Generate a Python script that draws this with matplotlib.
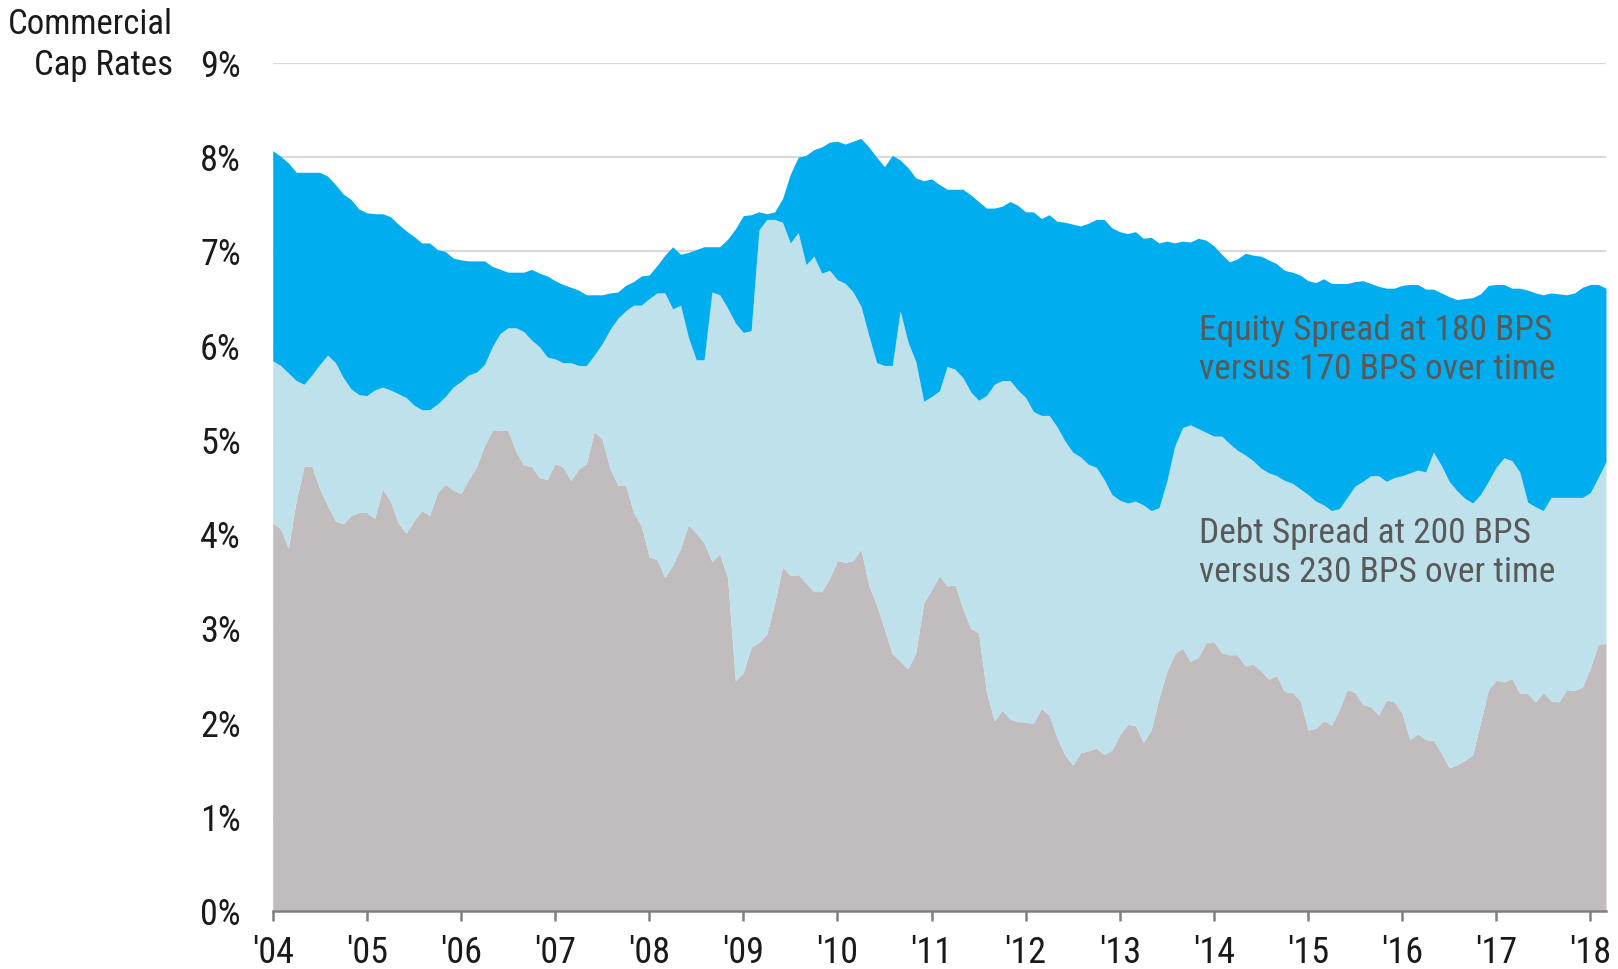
import matplotlib
matplotlib.use("Agg")
import matplotlib.pyplot as plt
from matplotlib import font_manager as fm
import numpy as np

# ---- data (monthly, Jan 2004 - Mar 2018), values in % ----
treasury = [
    4.12, 4.06, 3.85, 4.36, 4.72, 4.72, 4.48, 4.30, 4.14, 4.11, 4.20, 4.23,
    4.23, 4.17, 4.48, 4.35, 4.12, 4.01, 4.14, 4.25, 4.20, 4.44, 4.53, 4.47,
    4.43, 4.58, 4.72, 4.94, 5.10, 5.10, 5.10, 4.88, 4.73, 4.72, 4.60, 4.58,
    4.75, 4.71, 4.57, 4.69, 4.75, 5.09, 5.01, 4.70, 4.52, 4.52, 4.23, 4.09,
    3.76, 3.73, 3.54, 3.67, 3.85, 4.10, 4.01, 3.91, 3.71, 3.79, 3.54, 2.44,
    2.53, 2.80, 2.85, 2.94, 3.27, 3.65, 3.56, 3.57, 3.48, 3.39, 3.39, 3.53,
    3.72, 3.70, 3.72, 3.84, 3.46, 3.25, 2.99, 2.73, 2.65, 2.57, 2.74, 3.27,
    3.41, 3.56, 3.45, 3.46, 3.21, 3.00, 2.95, 2.33, 2.02, 2.13, 2.04, 2.01,
    2.00, 1.99, 2.15, 2.08, 1.84, 1.66, 1.55, 1.68, 1.70, 1.73, 1.66, 1.71,
    1.87, 1.98, 1.97, 1.79, 1.92, 2.26, 2.54, 2.73, 2.79, 2.65, 2.69, 2.85,
    2.86, 2.74, 2.72, 2.72, 2.60, 2.62, 2.55, 2.46, 2.50, 2.33, 2.32, 2.24,
    1.92, 1.94, 2.02, 1.97, 2.14, 2.35, 2.32, 2.19, 2.17, 2.08, 2.24, 2.22,
    2.10, 1.82, 1.88, 1.82, 1.81, 1.68, 1.52, 1.55, 1.60, 1.66, 2.00, 2.35,
    2.45, 2.43, 2.47, 2.31, 2.31, 2.22, 2.32, 2.23, 2.22, 2.35, 2.34, 2.38,
    2.58, 2.83, 2.84,
]
debt_cost = [
    5.84, 5.79, 5.71, 5.63, 5.59, 5.69, 5.80, 5.90, 5.82, 5.66, 5.54, 5.48,
    5.47, 5.53, 5.56, 5.53, 5.49, 5.45, 5.37, 5.32, 5.32, 5.38, 5.46, 5.56,
    5.62, 5.69, 5.72, 5.80, 5.99, 6.13, 6.19, 6.19, 6.15, 6.06, 5.99, 5.88,
    5.86, 5.82, 5.82, 5.79, 5.79, 5.90, 6.02, 6.17, 6.29, 6.37, 6.43, 6.43,
    6.50, 6.56, 6.56, 6.39, 6.43, 6.09, 5.85, 5.85, 6.57, 6.54, 6.40, 6.24,
    6.14, 6.16, 7.23, 7.34, 7.34, 7.31, 7.09, 7.20, 6.86, 6.95, 6.77, 6.80,
    6.70, 6.66, 6.57, 6.42, 6.11, 5.82, 5.79, 5.79, 6.37, 6.04, 5.83, 5.41,
    5.46, 5.52, 5.78, 5.75, 5.66, 5.51, 5.42, 5.47, 5.59, 5.63, 5.63, 5.53,
    5.45, 5.30, 5.26, 5.26, 5.14, 4.99, 4.87, 4.82, 4.74, 4.71, 4.58, 4.42,
    4.36, 4.33, 4.35, 4.31, 4.25, 4.28, 4.56, 4.93, 5.13, 5.16, 5.12, 5.08,
    5.04, 5.04, 4.96, 4.89, 4.84, 4.78, 4.70, 4.65, 4.62, 4.57, 4.54, 4.48,
    4.42, 4.35, 4.31, 4.25, 4.27, 4.39, 4.51, 4.56, 4.62, 4.62, 4.56, 4.60,
    4.62, 4.65, 4.68, 4.66, 4.87, 4.73, 4.56, 4.46, 4.38, 4.33, 4.42, 4.56,
    4.71, 4.81, 4.78, 4.66, 4.34, 4.29, 4.25, 4.39, 4.39, 4.39, 4.39, 4.39,
    4.44, 4.60, 4.77,
]
cap_rate = [
    8.07, 8.01, 7.94, 7.84, 7.84, 7.84, 7.84, 7.80, 7.71, 7.61, 7.55, 7.45,
    7.41, 7.40, 7.40, 7.37, 7.29, 7.22, 7.16, 7.09, 7.09, 7.02, 7.00, 6.93,
    6.91, 6.90, 6.90, 6.90, 6.84, 6.81, 6.78, 6.78, 6.78, 6.81, 6.77, 6.74,
    6.69, 6.65, 6.62, 6.59, 6.54, 6.54, 6.54, 6.56, 6.57, 6.64, 6.68, 6.74,
    6.75, 6.85, 6.96, 7.05, 6.97, 6.99, 7.02, 7.05, 7.05, 7.05, 7.13, 7.24,
    7.38, 7.39, 7.42, 7.40, 7.42, 7.56, 7.82, 8.00, 8.02, 8.08, 8.11, 8.16,
    8.17, 8.14, 8.17, 8.20, 8.11, 8.00, 7.90, 8.02, 7.97, 7.89, 7.78, 7.75,
    7.77, 7.71, 7.66, 7.66, 7.66, 7.60, 7.53, 7.46, 7.46, 7.48, 7.53, 7.49,
    7.42, 7.42, 7.35, 7.39, 7.32, 7.31, 7.29, 7.27, 7.30, 7.34, 7.34, 7.25,
    7.21, 7.19, 7.21, 7.14, 7.15, 7.09, 7.11, 7.09, 7.11, 7.10, 7.14, 7.12,
    7.06, 6.97, 6.89, 6.92, 6.98, 6.96, 6.95, 6.91, 6.87, 6.80, 6.78, 6.75,
    6.69, 6.67, 6.71, 6.66, 6.66, 6.66, 6.68, 6.69, 6.66, 6.63, 6.61, 6.61,
    6.64, 6.65, 6.65, 6.60, 6.60, 6.56, 6.52, 6.49, 6.50, 6.51, 6.55, 6.64,
    6.65, 6.65, 6.61, 6.61, 6.59, 6.56, 6.54, 6.56, 6.55, 6.54, 6.56, 6.62,
    6.65, 6.65, 6.61,
]
year_labels = ["'04", "'05", "'06", "'07", "'08", "'09", "'10", "'11",
               "'12", "'13", "'14", "'15", "'16", "'17", "'18"]
y_ticks = [0, 1, 2, 3, 4, 5, 6, 7, 8, 9]
equity_note = "Equity Spread at 180 BPS\nversus 170 BPS over time"
debt_note = "Debt Spread at 200 BPS\nversus 230 BPS over time"

# ---- font: prefer a narrow / condensed sans face if one is installed ----
def pick_font():
    entries = fm.fontManager.ttflist
    prefs = ["Liberation Sans Narrow", "Arial Narrow", "Roboto Condensed",
             "Open Sans Condensed", "Noto Sans Condensed", "DejaVu Sans Condensed"]
    for p in prefs:
        for f in entries:
            if f.name == p and f.weight in (400, "normal", "regular", "book") and f.style == "normal":
                return f.fname
    for f in entries:
        st = f.stretch
        narrow = (isinstance(st, str) and "condensed" in st and "extra" not in st and "ultra" not in st) or \
                 (isinstance(st, (int, float)) and 300 <= st < 500)
        if narrow and f.style == "normal" and f.weight in (400, "normal", "regular", "book") \
                and "Mono" not in f.name and "Serif" not in f.name:
            return f.fname
    return None

fpath = pick_font()
if fpath:
    def FP(size):
        return fm.FontProperties(fname=fpath, size=size)
else:
    def FP(size):
        return fm.FontProperties(family=["Liberation Sans", "DejaVu Sans"], size=size)

FS = 26 if fpath else 22

C_EQ = "#00AEEF"
C_DEBT = "#BEE1EB"
C_TSY = "#C1BDBE"

fig = plt.figure(figsize=(16.18, 9.69), dpi=100)
ax = fig.add_axes([272.7 / 1618, 1 - 911 / 969, (1606 - 272.7) / 1618, (911 - 63) / 969])

x = np.arange(len(cap_rate))
ax.fill_between(x, 0, treasury, color=C_TSY, lw=0, zorder=2)
ax.fill_between(x, treasury, debt_cost, color=C_DEBT, lw=0, zorder=2)
ax.fill_between(x, debt_cost, cap_rate, color=C_EQ, lw=0, zorder=2)

ax.set_xlim(0, len(cap_rate) - 1)
ax.set_ylim(0, 9)
ax.set_yticks(y_ticks)
ax.set_yticklabels([f"{v}%" for v in y_ticks])
ax.set_xticks(np.arange(len(year_labels)) * 12)
ax.set_xticklabels(year_labels)
for lab in ax.get_xticklabels() + ax.get_yticklabels():
    lab.set_fontproperties(FP(FS))
    lab.set_color("#1a1a1a")

ax.yaxis.grid(True, color="#D9D9D9", lw=1.6, zorder=0)
ax.set_axisbelow(True)
for s in ["left", "right", "top"]:
    ax.spines[s].set_visible(False)
ax.spines["bottom"].set_color("#808080")
ax.spines["bottom"].set_linewidth(1.8)
ax.spines["bottom"].set_zorder(5)
ax.tick_params(axis="y", length=0, pad=23)
ax.tick_params(axis="x", length=7, width=1.8, color="#808080", pad=10)

fig.text(173 / 1618, 1 - 45 / 969, "Commercial\nCap Rates", ha="right", va="center",
         fontproperties=FP(FS - 1), color="#1a1a1a", linespacing=1.3)

txt_kw = dict(color="#595959", ha="left", va="center", linespacing=1.22)
fig.text(1199 / 1618, 1 - 350 / 969, equity_note, fontproperties=FP(FS - 0.5), **txt_kw)
fig.text(1199 / 1618, 1 - 553 / 969, debt_note, fontproperties=FP(FS - 0.5), **txt_kw)

fig.savefig("out.png", dpi=100)
